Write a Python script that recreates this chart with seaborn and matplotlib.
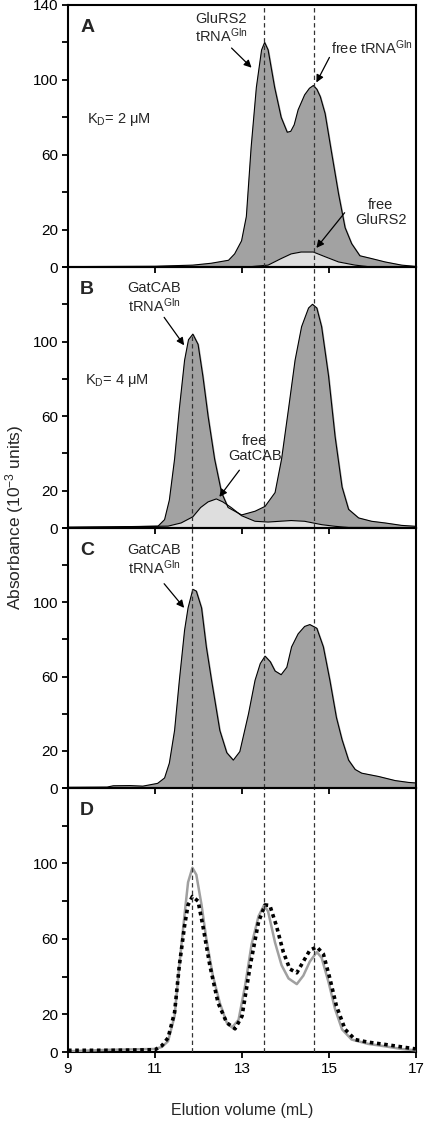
import numpy as np
import pandas as pd
import seaborn as sns
import matplotlib.pyplot as plt

# Panel A - GluRS2 + tRNA (KD = 2 uM)
a_x = [9.0, 10.0, 11.0, 11.87, 12.29, 12.69, 12.83, 12.99, 13.1, 13.21, 13.33, 13.45, 13.52,
       13.6, 13.75, 13.9, 14.04, 14.12, 14.2, 14.29, 14.44, 14.55, 14.64, 14.72, 14.8, 14.91,
       15.06, 15.22, 15.37, 15.52, 15.71, 15.98, 16.29, 16.67, 17.0]
a_y = [0.2, 0.3, 0.4, 1.0, 2.0, 3.6, 7, 14, 27, 64, 96, 116, 120,
       116, 96, 80, 72, 72.5, 76, 84, 92, 95.5, 97, 95, 91, 82,
       61, 39, 21, 12.5, 6, 4.5, 2.7, 1.0, 0.3]
a_free_x = [9.0, 13.21, 13.6, 13.9, 14.13, 14.36, 14.64, 14.91, 15.22, 15.6, 15.9, 17.0]
a_free_y = [0.0, 0.2, 1.0, 4.5, 7, 8, 8, 5.5, 2.7, 1.0, 0.2, 0.0]

# Panel B - GatCAB + tRNA (KD = 4 uM)
b_x = [9.0, 10.0, 11.07, 11.22, 11.33, 11.45, 11.56, 11.68, 11.77, 11.87, 11.99, 12.1,
       12.22, 12.37, 12.53, 12.68, 12.99, 13.3, 13.53, 13.76, 13.91, 14.07, 14.22, 14.37,
       14.53, 14.62, 14.72, 14.83, 14.99, 15.14, 15.3, 15.45, 15.68, 15.98, 16.29, 16.67, 17.0]
b_y = [0.5, 0.6, 1.0, 4.5, 15, 37, 64, 90, 101, 104, 98.5, 81.5,
       60, 37, 19, 11, 7, 9, 11.6, 19, 37, 64, 90, 108,
       118, 120, 118, 108, 81.5, 49, 22, 10, 5.4, 3.6, 2.7, 1.4, 0.9]
b_free_x = [9.0, 11.3, 11.6, 11.87, 12.05, 12.22, 12.41, 12.56, 12.75, 12.99, 13.3, 13.6,
            14.13, 14.44, 14.83, 15.14, 15.45, 17.0]
b_free_y = [0.2, 1.0, 2.7, 6, 11, 14, 15.6, 14, 11, 6.6, 3.6, 3.2,
            4, 3.6, 1.8, 0.9, 0.3, 0.2]

# Panel C - GatCAB + tRNA + GluRS2
c_x = [9.0, 9.9, 10.04, 10.42, 10.72, 11.06, 11.22, 11.33, 11.45, 11.56, 11.68, 11.76,
       11.87, 11.95, 12.07, 12.18, 12.3, 12.49, 12.65, 12.8, 12.95, 13.15, 13.3, 13.42,
       13.53, 13.65, 13.76, 13.9, 14.03, 14.14, 14.29, 14.44, 14.56, 14.72, 14.87, 15.02,
       15.17, 15.3, 15.45, 15.6, 15.75, 16.14, 16.52, 16.83, 17.0]
c_y = [0.4, 0.5, 1.2, 1.3, 1.0, 2.5, 5.4, 13.4, 31, 58, 85, 97,
       107, 106, 97, 76, 58, 31, 19, 15, 19.6, 40, 58, 67,
       71, 68, 63, 61, 65, 76, 83, 87, 88, 86, 76, 58,
       38, 26, 15, 10, 8, 6.2, 4, 3, 2.7]

# Panel D - two traces
d_solid_x = [9.0, 10.0, 11.0, 11.16, 11.3, 11.45, 11.56, 11.68, 11.76, 11.86, 11.95, 12.07,
             12.18, 12.33, 12.49, 12.65, 12.77, 12.92, 13.07, 13.22, 13.38, 13.51, 13.6,
             13.76, 13.91, 14.07, 14.26, 14.41, 14.56, 14.72, 14.83, 14.99, 15.14, 15.3,
             15.52, 15.9, 16.29, 16.67, 17.0]
d_solid_y = [0.4, 1.2, 1.6, 2.7, 5.7, 19, 46, 73, 90, 97.7, 94, 78,
             60, 40.5, 26, 15.5, 13, 17, 35, 57, 72, 78, 74.5,
             58, 46, 39, 36, 40.5, 48, 53, 50, 37, 22.7, 12,
             6.6, 4.3, 3, 1.6, 0.9]
d_dot_x = [9.0, 10.0, 11.0, 11.16, 11.3, 11.45, 11.56, 11.68, 11.76, 11.86, 11.99, 12.1,
           12.26, 12.45, 12.65, 12.84, 13.0, 13.19, 13.38, 13.53, 13.64, 13.79, 13.95,
           14.1, 14.26, 14.41, 14.56, 14.72, 14.87, 15.02, 15.17, 15.37, 15.6, 15.9,
           16.29, 16.67, 17.0]
d_dot_y = [0.9, 0.9, 1.2, 3.4, 7.5, 21, 46, 67, 78, 82.5, 80, 67,
           46, 26, 15.5, 12.3, 19, 46, 69, 78, 77.7, 67, 53,
           44, 42, 48, 54, 55.7, 52, 39, 24.5, 12, 6.6, 5.2,
           4, 2.7, 1.6]

peak_lines = [11.85, 13.5, 14.65]
x_ticks = [9, 11, 13, 15, 17]
y_ticks = [0, 20, 40, 60, 80, 100, 120, 140]

sns.set_style("ticks")
plt.rcParams["font.family"] = ["Liberation Sans", "DejaVu Sans"]
plt.rcParams["mathtext.fontset"] = "custom"
plt.rcParams["mathtext.rm"] = "Liberation Sans"
plt.rcParams["mathtext.it"] = "Liberation Sans:italic"
plt.rcParams["mathtext.bf"] = "Liberation Sans:bold"

dark = "#a2a2a2"
light = "#dedede"
W, H = 425, 1122
fig = plt.figure(figsize=(W / 100, H / 100), dpi=100)

# top / bottom of each panel in pixels
bounds = [(5, 267), (267, 528), (528, 788), (788, 1052)]
left_px, right_px = 68, 416
axes = []
for top, bot in bounds:
    ax = fig.add_axes([left_px / W, 1 - bot / H, (right_px - left_px) / W, (bot - top) / H])
    axes.append(ax)

for i, ax in enumerate(axes):
    ax.set_xlim(9, 17)
    ax.set_ylim(0, 140)
    ax.set_xticks(x_ticks)
    ax.set_yticks(y_ticks)
    labels = ["0", "20", "", "60", "", "100", "", "140" if i == 0 else ""]
    ax.set_yticklabels(labels)
    if i < 3:
        ax.set_xticklabels([])
    ax.tick_params(axis="both", direction="out", length=4, width=1.3, labelsize=11,
                   colors="black", pad=3)
    for s in ax.spines.values():
        s.set_visible(True)
        s.set_linewidth(1.5)
        s.set_color("black")
    ax.set_xlabel("")
    ax.set_ylabel("")
    ax.patch.set_alpha(0)

edge = dict(color="black", linewidth=0.8)

# A
ax = axes[0]
ax.fill_between(a_x, a_y, 0, color=dark, zorder=1)
sns.lineplot(x=a_x, y=a_y, ax=ax, sort=False, zorder=3, **edge)
ax.fill_between(a_free_x, a_free_y, 0, color=light, zorder=2)
sns.lineplot(x=a_free_x, y=a_free_y, ax=ax, sort=False, zorder=3, **edge)

# B
ax = axes[1]
ax.fill_between(b_x, b_y, 0, color=dark, zorder=1)
sns.lineplot(x=b_x, y=b_y, ax=ax, sort=False, zorder=3, **edge)
ax.fill_between(b_free_x, b_free_y, 0, color=light, zorder=2)
sns.lineplot(x=b_free_x, y=b_free_y, ax=ax, sort=False, zorder=3, **edge)

# C
ax = axes[2]
ax.fill_between(c_x, c_y, 0, color=dark, zorder=1)
sns.lineplot(x=c_x, y=c_y, ax=ax, sort=False, zorder=3, **edge)

# D
ax = axes[3]
sns.lineplot(x=d_solid_x, y=d_solid_y, ax=ax, sort=False, color="#a0a0a0", linewidth=1.8, zorder=3)
sns.lineplot(x=d_dot_x, y=d_dot_y, ax=ax, sort=False, color="black", linewidth=2.6,
             linestyle=(0, (1, 1)), zorder=4)
ax.set_xticklabels([str(t) for t in x_ticks])
ax.set_xlabel("Elution volume (mL)", fontsize=11.5, labelpad=20)

# dashed guide lines
dash = dict(color="#333333", linewidth=0.9, linestyle=(0, (3.5, 2.5)), zorder=5)
for i, ax in enumerate(axes):
    for xv in peak_lines:
        if xv == peak_lines[0]:
            if i == 0:
                continue
            if i == 1:
                ax.axvline(xv, ymin=0, ymax=104 / 140, **dash)
                continue
        ax.axvline(xv, **dash)

# panel letters
for ax, letter in zip(axes, "ABCD"):
    ax.text(0.035, 0.915, letter, transform=ax.transAxes, fontsize=14, fontweight="bold",
            ha="left", va="center")

fs = 10.5
arrow = dict(arrowstyle="-|>", color="black", lw=0.9, mutation_scale=11, shrinkA=0, shrinkB=0)

ax = axes[0]
ax.text(12.52, 127.5, "GluRS2\ntRNA$^{\\mathrm{Gln}}$", fontsize=fs, ha="center", va="center",
        linespacing=1.1)
ax.annotate("", xy=(13.22, 106.5), xytext=(12.76, 117), arrowprops=arrow)
ax.text(15.98, 117, "free tRNA$^{\\mathrm{Gln}}$", fontsize=fs, ha="center", va="center")
ax.annotate("", xy=(14.71, 98.6), xytext=(15.01, 112), arrowprops=arrow)
ax.text(9.44, 79, "K$_{\\mathrm{D}}$= 2 \u03bcM", fontsize=fs, ha="left", va="center")
ax.text(16.19, 29, "free\nGluRS2", fontsize=fs, ha="center", va="center", linespacing=1.1)
ax.annotate("", xy=(14.71, 10.2), xytext=(15.36, 29), arrowprops=arrow)

ax = axes[1]
ax.text(10.98, 123.5, "GatCAB\ntRNA$^{\\mathrm{Gln}}$", fontsize=fs, ha="center", va="center",
        linespacing=1.1)
ax.annotate("", xy=(11.67, 98), xytext=(11.21, 113), arrowprops=arrow)
ax.text(9.4, 79, "K$_{\\mathrm{D}}$= 4 \u03bcM", fontsize=fs, ha="left", va="center")
ax.text(13.29, 42.5, "free\nGatCAB", fontsize=fs, ha="center", va="center", linespacing=1.1)
ax.annotate("", xy=(12.48, 16.7), xytext=(12.94, 31), arrowprops=arrow)

ax = axes[2]
ax.text(10.98, 123, "GatCAB\ntRNA$^{\\mathrm{Gln}}$", fontsize=fs, ha="center", va="center",
        linespacing=1.1)
ax.annotate("", xy=(11.67, 97), xytext=(11.21, 110), arrowprops=arrow)

fig.text(15 / W, 1 - 517 / H, "Absorbance (10$^{-3}$ units)", rotation=90, fontsize=12.5,
         ha="center", va="center")

fig.savefig("out.png", dpi=100)
